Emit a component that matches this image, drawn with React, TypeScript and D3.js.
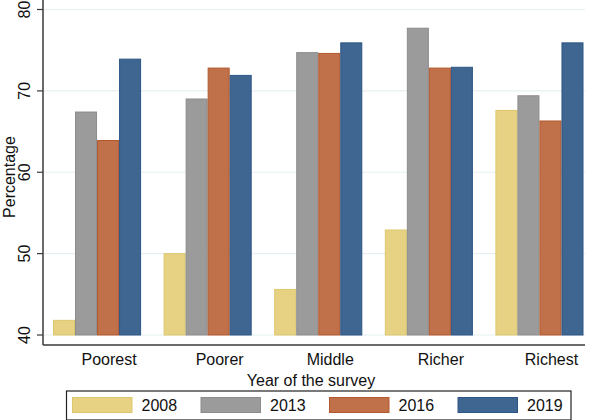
import React from "react";
import * as d3 from "d3";

const categories = ["Poorest", "Poorer", "Middle", "Richer", "Richest"];
const years = ["2008", "2013", "2016", "2019"];
const v2008 = [41.8, 50.0, 45.6, 52.9, 67.6];
const v2013 = [67.4, 69.0, 74.7, 77.7, 69.4];
const v2016 = [63.9, 72.8, 74.6, 72.8, 66.3];
const v2019 = [73.9, 71.9, 75.9, 72.9, 75.9];
const yTicks = [40, 50, 60, 70, 80];

const seriesValues = [v2008, v2013, v2016, v2019];
const fills = ["#e6d282", "#9b9b9b", "#c07149", "#3f6691"];
const strokes = ["#ddc76e", "#8c8c8c", "#b3582e", "#2d5585"];

const W = 594;
const H = 420;
const font = "'Liberation Sans', Arial, Helvetica, sans-serif";

export default function App() {
  const axisX = 43;
  const axisY = 345;
  const y = d3.scaleLinear().domain([40, 80]).range([335, 9.5]);
  const x0 = d3
    .scaleBand<string>()
    .domain(categories)
    .range([53, 583.5])
    .paddingInner(0.2036)
    .paddingOuter(0);
  const x1 = d3.scaleBand<string>().domain(years).range([0, x0.bandwidth()]).padding(0);

  const legendX = [72.5, 201, 329.5, 458];

  return (
    <svg
      width={W}
      height={H}
      style={{ position: "absolute", left: 0, top: 0, background: "#fff" }}
      fontFamily={font}
    >
      {/* grid lines */}
      {yTicks.map((t) => (
        <line
          key={"g" + t}
          x1={axisX + 1}
          x2={585}
          y1={y(t)}
          y2={y(t)}
          stroke="#e6eff1"
          strokeWidth={1.2}
        />
      ))}
      {/* bars */}
      {categories.map((c, i) => (
        <g key={c} transform={`translate(${x0(c)},0)`}>
          {years.map((yr, j) => {
            const v = seriesValues[j][i];
            return (
              <rect
                key={yr}
                x={(x1(yr) as number) + 0.5}
                y={y(v)}
                width={x1.bandwidth() - 1}
                height={y(40) - y(v)}
                fill={fills[j]}
                stroke={strokes[j]}
                strokeWidth={1}
              />
            );
          })}
        </g>
      ))}
      {/* axes */}
      <line x1={axisX} x2={axisX} y1={0} y2={axisY} stroke="#3a3a3a" strokeWidth={1.5} />
      <line x1={axisX} x2={585} y1={axisY} y2={axisY} stroke="#3a3a3a" strokeWidth={1.5} />
      {yTicks.map((t) => (
        <g key={"t" + t}>
          <line x1={axisX - 6} x2={axisX} y1={y(t)} y2={y(t)} stroke="#3a3a3a" strokeWidth={1.2} />
          <text
            transform={`translate(${30},${y(t)}) rotate(-90)`}
            textAnchor="middle"
            fontSize={16}
            fill="#111"
          >
            {t}
          </text>
        </g>
      ))}
      <text
        transform={`translate(${14.5},${177}) rotate(-90)`}
        textAnchor="middle"
        fontSize={16}
        fill="#111"
      >
        Percentage
      </text>
      {/* category labels */}
      {categories.map((c) => (
        <text
          key={"l" + c}
          x={(x0(c) as number) + x0.bandwidth() / 2 + 12}
          y={364.5}
          textAnchor="middle"
          fontSize={16}
          fill="#111"
        >
          {c}
        </text>
      ))}
      <text x={311} y={385.5} textAnchor="middle" fontSize={16} fill="#111">
        Year of the survey
      </text>
      {/* legend */}
      <rect x={66.5} y={391} width={504.5} height={29} fill="#fff" stroke="#222" strokeWidth={1.2} />
      {years.map((yr, j) => (
        <g key={"lg" + yr}>
          <rect
            x={legendX[j]}
            y={397.5}
            width={59.5}
            height={15}
            fill={fills[j]}
            stroke={strokes[j]}
            strokeWidth={1}
          />
          <text x={legendX[j] + 69} y={411} fontSize={16} fill="#111">
            {yr}
          </text>
        </g>
      ))}
    </svg>
  );
}
